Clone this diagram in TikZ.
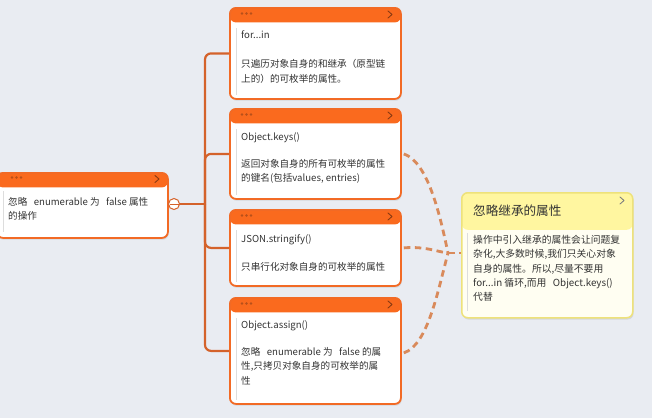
\documentclass[tikz,border=0pt]{standalone}
\usepackage{fontspec}
\setmainfont{Noto Sans CJK SC}
\usetikzlibrary{shadows}
\definecolor{bg}{HTML}{E9ECF2}
\definecolor{headorange}{HTML}{FA6A1E}
\definecolor{cardorange}{HTML}{F26A25}
\definecolor{trunkc}{HTML}{D4622B}
\definecolor{dashc}{HTML}{D98A5B}
\definecolor{dotc}{HTML}{B8501A}
\definecolor{chevc}{HTML}{8A3A12}
\definecolor{txtc}{HTML}{333333}
\definecolor{yhead}{HTML}{FFF6A0}
\definecolor{ybody}{HTML}{FFFEF2}
\definecolor{yborder}{HTML}{EEE27A}
\definecolor{accent}{HTML}{DDDDDD}
\tikzset{
  card/.style={draw=cardorange, line width=1.8pt, fill=white, rounded corners=6pt, inner sep=0pt,
    anchor=north west,
    drop shadow={opacity=0.2, shadow xshift=0.8pt, shadow yshift=-1.8pt},
    path picture={\fill[headorange] (path picture bounding box.north west) rectangle ([yshift=-14.5pt]path picture bounding box.north east);}},
  ycard/.style={draw=yborder, line width=1.5pt, fill=ybody, rounded corners=6pt, inner sep=0pt,
    anchor=north west,
    drop shadow={opacity=0.2, shadow xshift=0.8pt, shadow yshift=-1.8pt},
    path picture={\fill[yhead] (path picture bounding box.north west) rectangle ([yshift=-37pt]path picture bounding box.north east);}},
  txt/.style={anchor=north west, inner sep=0pt, text=txtc, align=left, font=\fontsize{9.6}{14.6}\selectfont},
  trunk/.style={draw=trunkc, line width=2.2pt, rounded corners=6pt},
  dashline/.style={draw=dashc, line width=2.8pt, dash pattern=on 6.5pt off 4.5pt},
  accentline/.style={draw=accent, line width=0.8pt},
  hdot/.style={fill=dotc, circle, inner sep=0pt, minimum size=2.6pt},
  chev/.style={draw=chevc, line width=0.9pt, line cap=round, line join=round},
}
\begin{document}
\begin{tikzpicture}[x=1pt,y=-1pt]
\useasboundingbox[fill=bg] (0,0) rectangle (652,418);

% left root card
\node[card, minimum width=171pt, minimum height=65pt] (root) at (-4,172) {};
\draw[accentline] (3,191) -- (3,232);
\node[txt] (roott) at (8,197) {忽略\ \ \ enumerable 为\ \ \ false 属性\\的操作};
\node[hdot] (rd1) at (12,177.5) {};
\node[hdot] (rd2) at (16.5,177.5) {};
\node[hdot] (rd3) at (21,177.5) {};
\draw[chev] (155,175.5) -- (159,179) -- (155,182.5);

% branch cards
\node[card, minimum width=171pt, minimum height=91pt] (b1) at (229,7) {};
\node[card, minimum width=171pt, minimum height=90pt] (b2) at (229,108) {};
\node[card, minimum width=171pt, minimum height=76pt] (b3) at (229,209) {};
\node[card, minimum width=171pt, minimum height=106pt] (b4) at (229,297) {};

\foreach \b/\t/\bot in {b1/7/95, b2/108/195, b3/209/282, b4/297/400}{
  \draw[accentline] (236,\t+21) -- (236,\bot);
  \node[hdot] at (242,\t+6.5) {};
  \node[hdot] at (246.5,\t+6.5) {};
  \node[hdot] at (251,\t+6.5) {};
  \draw[chev] (388,\t+4) -- (392,\t+7.5) -- (388,\t+11);
}

\node[txt] (b1a) at (241,31) {for...in};
\node[txt] (b1b) at (241,59) {只遍历对象自身的和继承（原型链\\上的）的可枚举的属性。};
\node[txt] (b2a) at (241,132) {Object.keys()};
\node[txt] (b2b) at (241,159) {返回对象自身的所有可枚举的属性\\的键名(包括values, entries)};
\node[txt] (b3a) at (241,234) {JSON.stringify()};
\node[txt] (b3b) at (241,262) {只串行化对象自身的可枚举的属性};
\node[txt] (b4a) at (241,320) {Object.assign()};
\node[txt] (b4b) at (241,347) {忽略\ \ \ enumerable 为\ \ \ false 的属\\性,只拷贝对象自身的可枚举的属\\性};

% right yellow card
\node[ycard, minimum width=171pt, minimum height=125pt] (sum) at (461,192) {};
\draw[accentline] (467,233) -- (467,311);
\node[anchor=west, inner sep=0pt, text=txtc, font=\fontsize{12.6}{15}\selectfont] (sumt) at (473,211) {忽略继承的属性};
\draw[draw=gray, line width=0.9pt, line cap=round, line join=round] (620,197) -- (624,200.5) -- (620,204);
\node[txt, font=\fontsize{9.8}{14.3}\selectfont] (sumb) at (473,235) {操作中引入继承的属性会让问题复\\杂化,大多数时候,我们只关心对象\\自身的属性。所以,尽量不要用\\for...in 循环,而用\ \ \ Object.keys()\\代替};

% collapse circle and trunk
\coordinate (hub) at (205,204);
\draw[trunk, rounded corners=0pt] (179,204) -- (hub);
\node[circle, draw=trunkc, fill=white, line width=1pt, minimum size=11pt, inner sep=0pt] (circ) at (174,204) {};
\draw[draw=trunkc, line width=1pt] (169.5,204) -- (178.5,204);
\draw[trunk] (b1.west) -| (hub);
\draw[trunk] (b2.west) -| (hub);
\draw[trunk] (b3.west) -| (hub);
\draw[trunk] (b4.west) -| (hub);

% dashed relations
\coordinate (jn) at (448,253);
\draw[dashline] ([xshift=2pt]b2.east) .. controls (428,162) and (440,215) .. (jn);
\draw[dashline] ([xshift=2pt]b3.east) .. controls (425,246) and (438,252) .. (jn);
\draw[dashline] ([xshift=2pt,yshift=-2pt]b4.east) .. controls (428,345) and (438,290) .. (jn);
\draw[dashline] (jn) -- (sum.west |- jn);
\end{tikzpicture}
\end{document}
